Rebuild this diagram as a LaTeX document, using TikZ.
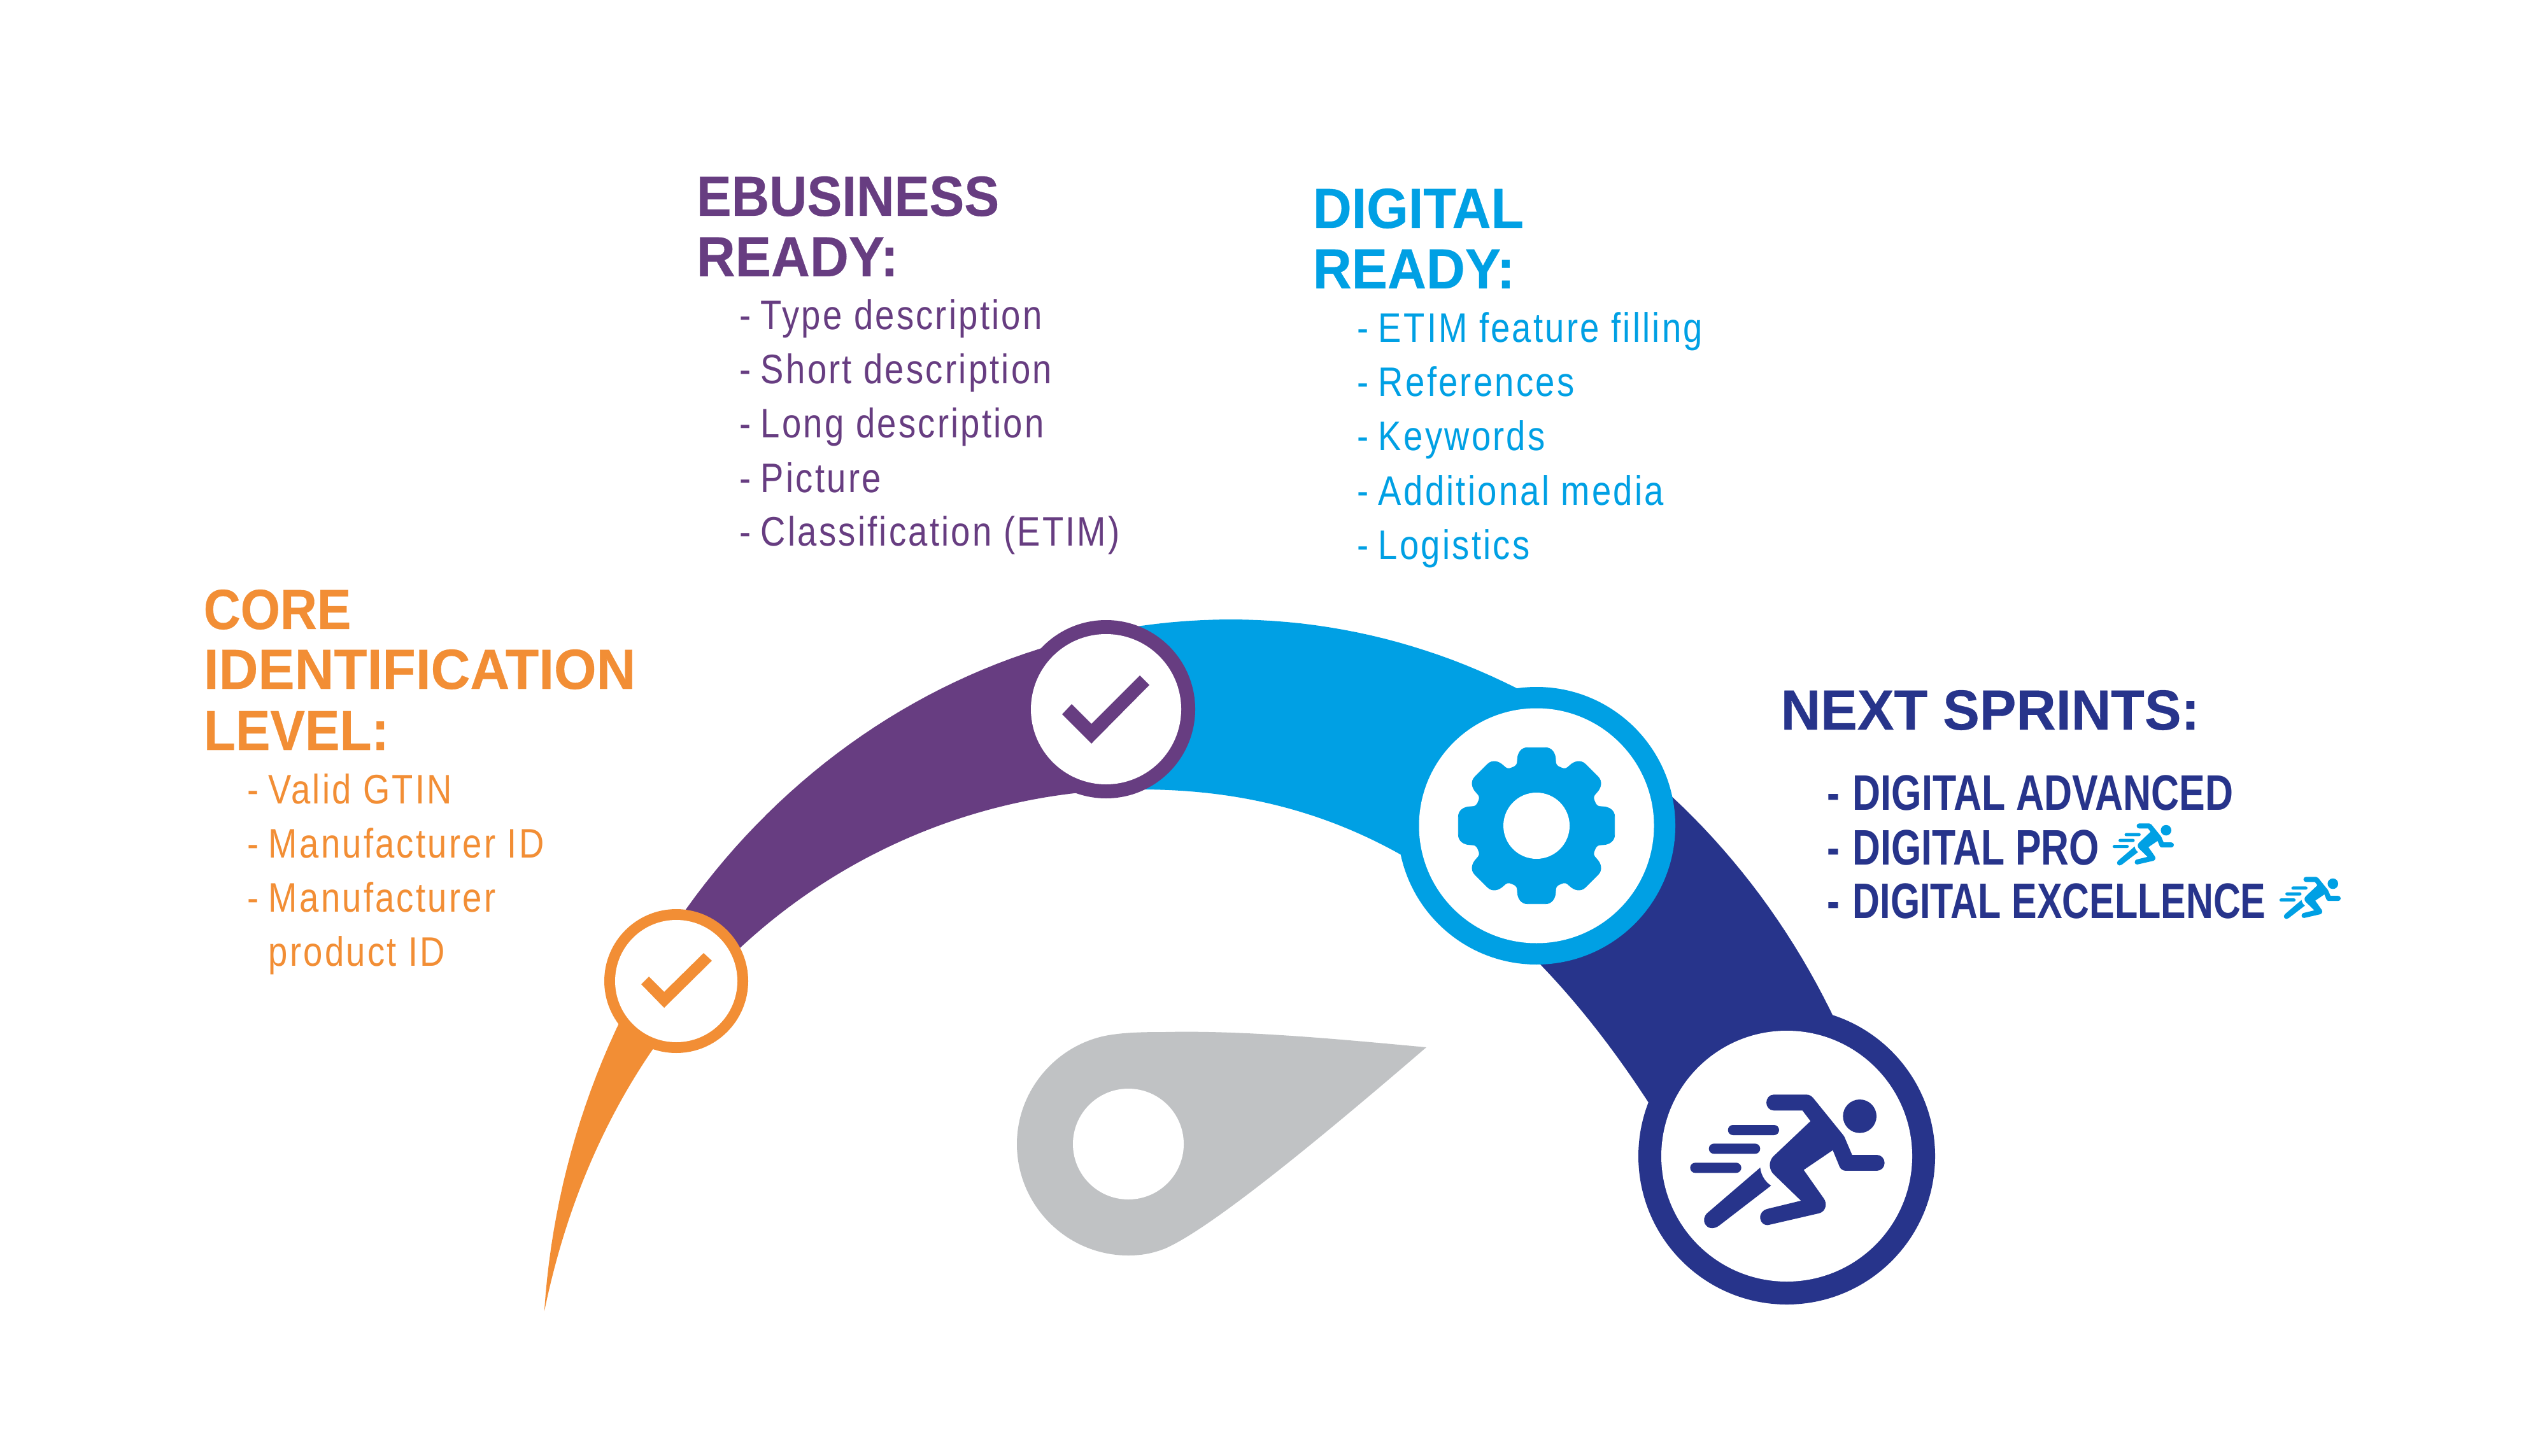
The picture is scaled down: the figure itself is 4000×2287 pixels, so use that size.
\documentclass[tikz,border=0pt]{standalone}
\usepackage{fontspec}
\setmainfont{Liberation Sans}
\newfontfamily\headfont[FakeStretch=0.95,BoldFeatures={FakeBold=0.35}]{Liberation Sans}
\newfontfamily\itemfont[FakeStretch=0.84,LetterSpace=5.0]{Liberation Sans}
\newfontfamily\boldcond[FakeStretch=0.765]{Liberation Sans}
\definecolor{cOrange}{HTML}{F28E35}
\definecolor{cPurple}{HTML}{673D81}
\definecolor{cBlue}{HTML}{00A0E4}
\definecolor{cNavy}{HTML}{27348B}
\definecolor{cGray}{HTML}{C0C2C4}
\tikzset{
  headtext/.style={inner sep=0pt,anchor=base west,font=\headfont\bfseries\fontsize{22.2}{22.2}\selectfont},
  itemtext/.style={inner sep=0pt,anchor=base west,font=\itemfont\fontsize{16.2}{16.2}\selectfont},
  sprinttext/.style={inner sep=0pt,anchor=base west,font=\boldcond\bfseries\fontsize{19.6}{19.6}\selectfont}
}
\newcommand{\dashitem}[1]{\makebox[8.3pt][l]{-}#1}
\newcommand{\wide}[2]{\scalebox{#1}[1]{#2}}
\newcommand{\bandpath}{%
  plot[domain=-85.9:0,samples=70,variable=\t] ({1933+1081*sin(\t)},{2143-1170*cos(\t)})
  -- plot[domain=0:70,samples=60,variable=\t] ({1933+1070*sin(\t)},{2143-1170*cos(\t)})
  -- (2640,1815) .. controls (2360,1333) and (2050,1240) .. (1790,1240)
  .. controls (1400,1240) and (970,1500) .. (855,2059) -- cycle}
\newcommand{\speedline}[4]{%
  \fill[#4] (#1,#3) -- (#2,#3) arc [start angle=-90,end angle=90,radius=24]
    -- (#1,#3+48) arc [start angle=90,end angle=270,radius=24] -- cycle;}
\newcommand{\runnerfig}[4]{%
  \begin{scope}[shift={(#1,#2)},scale=#3]
    \fill[#4] (902,220) circle [radius=79];
    \fill[#4] (497,118) -- (650,118) .. controls (664,118) and (674,124) .. (682,133)
      -- (822,306) .. controls (826,311) and (829,315) .. (831,320) -- (866,402) -- (982,402)
      .. controls (1003,402) and (1019,419) .. (1019,440) .. controls (1019,461) and (1003,477) .. (982,477)
      -- (838,477) .. controls (824,477) and (812,470) .. (807,458) -- (775,380) -- (638,473) -- (733,608)
      .. controls (750,632) and (742,668) .. (712,677) -- (474,732)
      .. controls (452,737) and (436,722) .. (433,702) .. controls (430,680) and (445,662) .. (465,657)
      -- (625,618) -- (497,494) .. controls (472,470) and (472,430) .. (497,407) -- (670,243) -- (632,193) -- (497,193)
      .. controls (477,193) and (462,176) .. (462,156) .. controls (462,135) and (477,118) .. (497,118) -- cycle;
    \fill[#4] (433,462) .. controls (437,500) and (458,530) .. (484,547) -- (240,735)
      .. controls (218,752) and (190,752) .. (176,732) .. controls (162,712) and (168,690) .. (185,675) -- cycle;
    \speedline{305}{498}{261}{#4}
    \speedline{215}{409}{349}{#4}
    \speedline{127}{320}{439}{#4}
  \end{scope}}
\begin{document}
\begin{tikzpicture}[x=0.25pt,y=-0.25pt]
\path[use as bounding box,fill=white] (0,0) rectangle (4000,2287);

% pointer
\fill[cGray] (2240,1645) .. controls (2120,1634) and (1960,1618) .. (1830,1621)
  .. controls (1790,1621) and (1765,1622) .. (1741,1626)
  .. controls (1660,1640) and (1597,1712) .. (1597,1797)
  .. controls (1597,1893) and (1675,1972) .. (1772,1972)
  .. controls (1795,1972) and (1812,1968) .. (1830,1961)
  .. controls (1900,1930) and (2060,1800) .. (2240,1645) -- cycle;
\fill[white] (1772,1797) circle [radius=87];

% band, one colour between each pair of ring centres
\begin{scope}
  \clip (0,0) rectangle (1062,2287);
  \fill[cOrange] \bandpath;
\end{scope}
\begin{scope}
  \clip (1062,0) rectangle (1737,2287);
  \fill[cPurple] \bandpath;
\end{scope}
\begin{scope}
  \clip (1737,0) rectangle (2413,2287);
  \fill[cBlue] \bandpath;
\end{scope}
\begin{scope}
  \clip (2413,0) rectangle (4000,2287);
  \fill[cNavy] \bandpath;
\end{scope}

% rings
\fill[cOrange] (1062,1541) circle [radius=113];
\fill[white] (1062,1541) circle [radius=96];
\fill[cPurple] (1737,1114) circle [radius=140];
\fill[white] (1737,1114) circle [radius=118];
\fill[cBlue] (2413,1297) circle [radius=218];
\fill[white] (2413,1297) circle [radius=184.5];
\fill[cNavy] (2806,1816) circle [radius=233];
\fill[white] (2806,1816) circle [radius=197];

% check marks
\fill[cOrange] (1007,1546) -- (1019,1534) -- (1043,1558) -- (1105,1497) -- (1118,1509) -- (1043,1583) -- cycle;
\fill[cPurple] (1668,1122) -- (1683,1106) -- (1714,1137) -- (1790,1061) -- (1805,1076) -- (1714,1168) -- cycle;

% gear
\foreach \a in {0,45,...,315}{
  \fill[cBlue,draw=cBlue,line width=0.2pt,shift={(2413,1297)},rotate=\a]
    (0,0) -- (-37.9,-91.5) .. controls (-31,-94) and (-30,-97) .. (-30,-103)
    .. controls (-30,-114) and (-24,-122.7) .. (-14,-122.7) -- (14,-122.7)
    .. controls (24,-122.7) and (30,-114) .. (30,-103)
    .. controls (30,-97) and (31,-94) .. (37.9,-91.5) -- cycle;
}
\fill[white] (2413,1297) circle [radius=52];

% runners
\runnerfig{2620}{1680}{0.3333}{cNavy}
\runnerfig{3307}{1281}{0.105}{cBlue}
\runnerfig{3569}{1365}{0.105}{cBlue}

% core
\node[headtext,text=cOrange] (coreA) at (319,988) {\wide{0.95}{CORE}};
\node[headtext,text=cOrange] (coreB) at (319,1082) {\wide{1.015}{IDENTIFICATION}};
\node[headtext,text=cOrange] (coreC) at (319,1178) {\wide{0.97}{LEVEL:}};
\node[itemtext,text=cOrange] (coreD) at (388,1262) {\dashitem{Valid GTIN}};
\node[itemtext,text=cOrange] (coreE) at (388,1347) {\dashitem{Manufacturer ID}};
\node[itemtext,text=cOrange] (coreF) at (388,1432) {\dashitem{Manufacturer}};
\node[itemtext,text=cOrange] (coreG) at (421,1517) {product ID};

% ebusiness
\node[headtext,text=cPurple] (ebA) at (1093,339) {\wide{0.975}{EBUSINESS}};
\node[headtext,text=cPurple] (ebB) at (1093,434) {READY:};
\node[itemtext,text=cPurple] (ebC) at (1161,518) {\dashitem{Type description}};
\node[itemtext,text=cPurple] (ebD) at (1161,603) {\dashitem{Short description}};
\node[itemtext,text=cPurple] (ebE) at (1161,688) {\dashitem{Long description}};
\node[itemtext,text=cPurple] (ebF) at (1161,774) {\dashitem{Picture}};
\node[itemtext,text=cPurple] (ebG) at (1161,858) {\dashitem{Classification (ETIM)}};

% digital
\node[headtext,text=cBlue] (diA) at (2061,358) {DIGITAL};
\node[headtext,text=cBlue] (diB) at (2061,453) {READY:};
\node[itemtext,text=cBlue] (diC) at (2131,538) {\dashitem{ETIM feature filling}};
\node[itemtext,text=cBlue] (diD) at (2131,623) {\dashitem{References}};
\node[itemtext,text=cBlue] (diE) at (2131,708) {\dashitem{Keywords}};
\node[itemtext,text=cBlue] (diF) at (2131,794) {\dashitem{Additional media}};
\node[itemtext,text=cBlue] (diG) at (2131,879) {\dashitem{Logistics}};

% sprints
\node[headtext,text=cNavy] (nsA) at (2796,1146) {\wide{1.024}{NEXT SPRINTS:}};
\node[sprinttext,text=cNavy] (nsB) at (2869,1272) {\makebox[10pt][l]{-}\wide{1.017}{DIGITAL ADVANCED}};
\node[sprinttext,text=cNavy] (nsC) at (2869,1358) {\makebox[10pt][l]{-}\wide{1.013}{DIGITAL PRO}};
\node[sprinttext,text=cNavy] (nsD) at (2869,1442) {\makebox[10pt][l]{-}\wide{0.99}{DIGITAL EXCELLENCE}};
\end{tikzpicture}
\end{document}
